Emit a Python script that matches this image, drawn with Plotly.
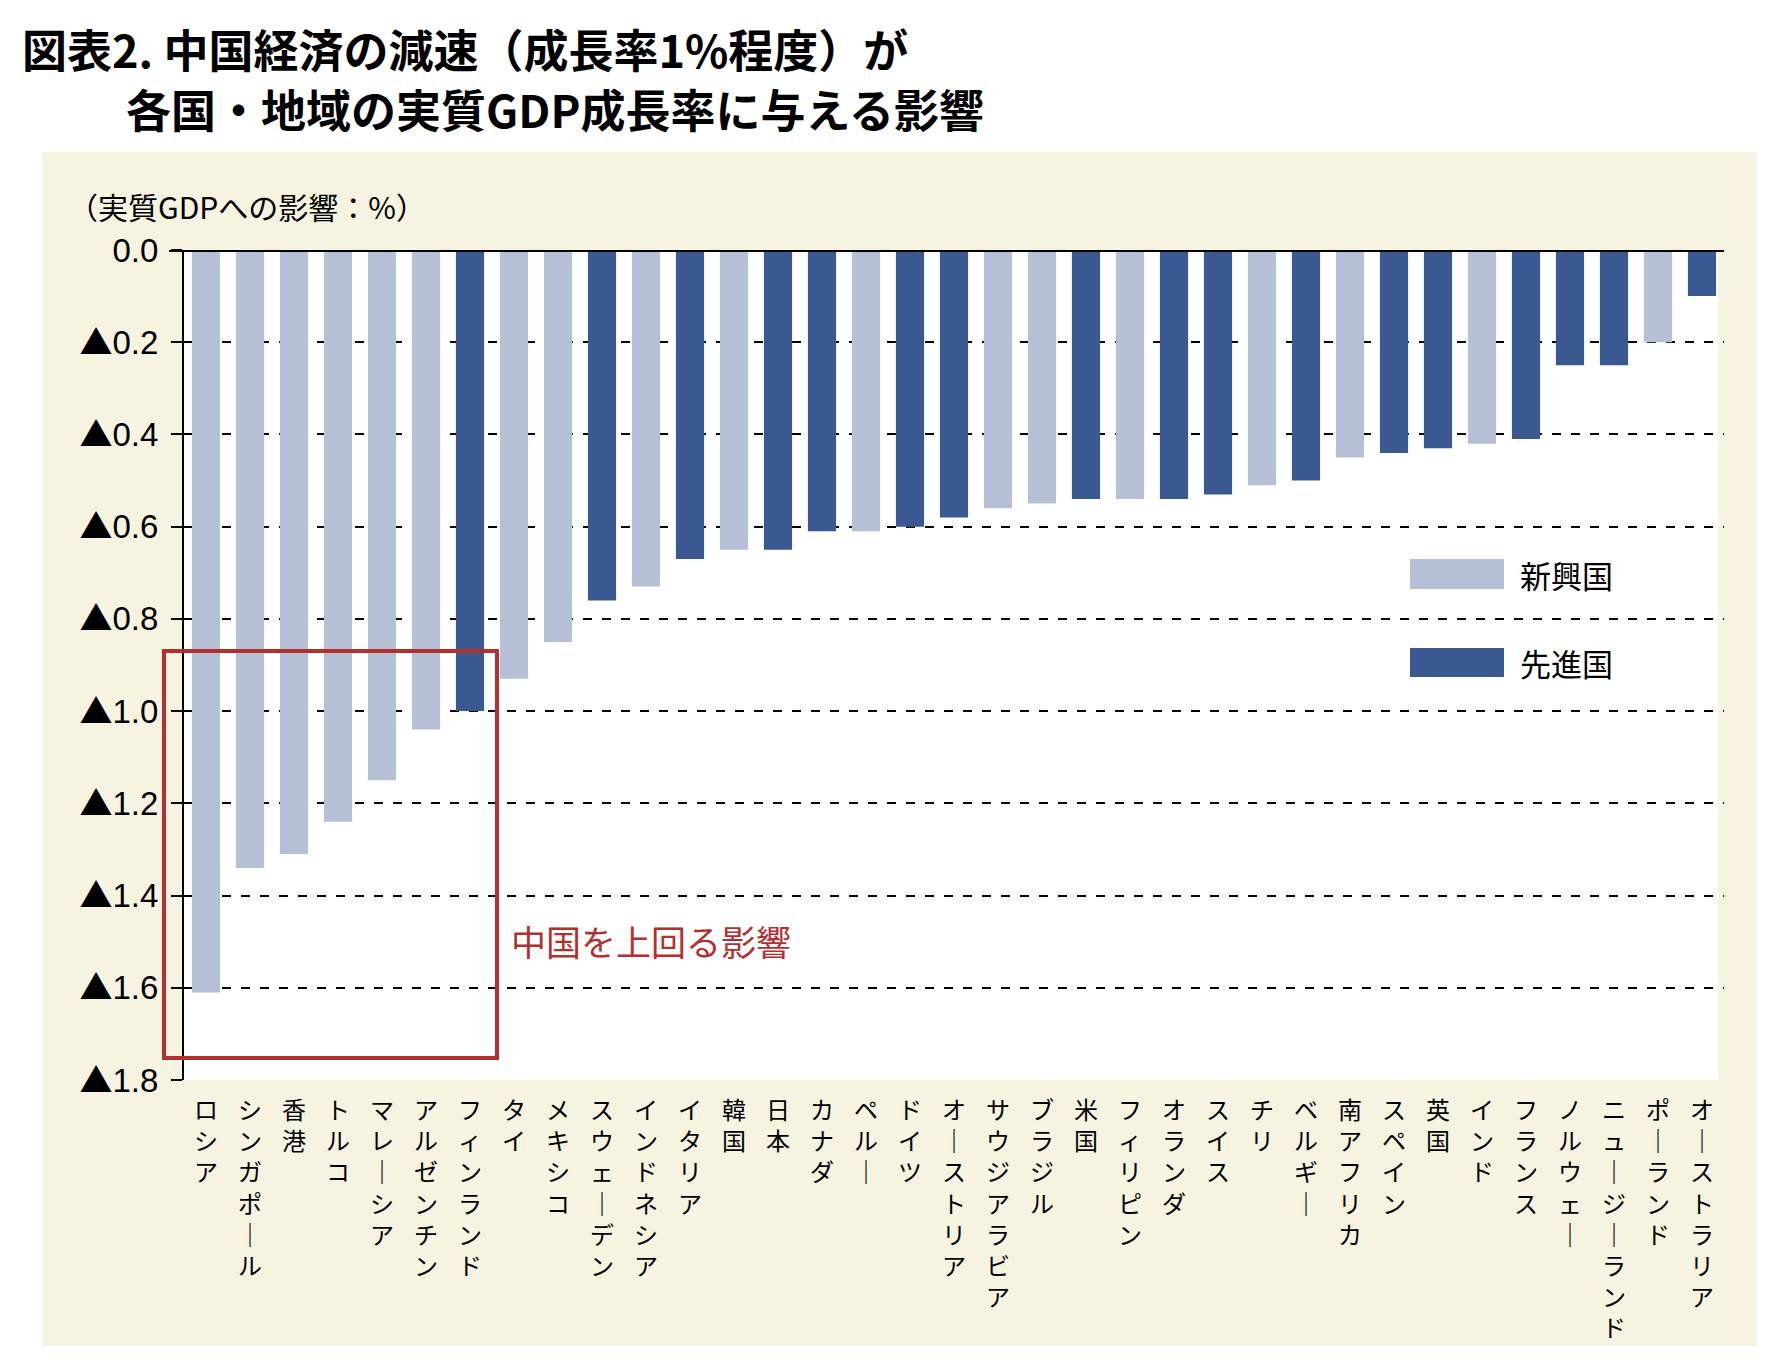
import plotly.graph_objects as go

# ---- data ----
countries = ["ロシア", "シンガポール", "香港", "トルコ", "マレーシア", "アルゼンチン", "フィンランド",
             "タイ", "メキシコ", "スウェーデン", "インドネシア", "イタリア", "韓国", "日本", "カナダ",
             "ペルー", "ドイツ", "オーストリア", "サウジアラビア", "ブラジル", "米国", "フィリピン",
             "オランダ", "スイス", "チリ", "ベルギー", "南アフリカ", "スペイン", "英国", "インド",
             "フランス", "ノルウェー", "ニュージーランド", "ポーランド", "オーストラリア"]
impact = [-1.61, -1.34, -1.31, -1.24, -1.15, -1.04, -1.00,
          -0.93, -0.85, -0.76, -0.73, -0.67, -0.65, -0.65, -0.61,
          -0.61, -0.60, -0.58, -0.56, -0.55, -0.54, -0.54,
          -0.54, -0.53, -0.51, -0.50, -0.45, -0.44, -0.43, -0.42,
          -0.41, -0.25, -0.25, -0.20, -0.10]
group = ["新興国", "新興国", "新興国", "新興国", "新興国", "新興国", "先進国",
         "新興国", "新興国", "先進国", "新興国", "先進国", "新興国", "先進国", "先進国",
         "新興国", "先進国", "先進国", "新興国", "新興国", "先進国", "新興国",
         "先進国", "先進国", "新興国", "先進国", "新興国", "先進国", "先進国", "新興国",
         "先進国", "先進国", "先進国", "新興国", "先進国"]
y_tickvals = [0, -0.2, -0.4, -0.6, -0.8, -1.0, -1.2, -1.4, -1.6, -1.8]
y_ticklabels = ["0.0", "▲0.2", "▲0.4", "▲0.6", "▲0.8", "▲1.0", "▲1.2", "▲1.4", "▲1.6", "▲1.8"]

title_line1 = "図表2. 中国経済の減速（成長率1%程度）が"
title_line2 = "各国・地域の実質GDP成長率に与える影響"
axis_note = "（実質GDPへの影響：%）"
box_note = "中国を上回る影響"

colors = {"新興国": "#b5c0d7", "先進国": "#3a5892"}
RED = "#b3302e"
JP = "Noto Sans CJK JP"


def vertical(s):
    return "<br>".join("｜" if c == "ー" else c for c in s)


def tri(s):
    return s.replace("▲", "<span style='font-family:Noto Sans CJK JP'>▲</span>")


# ---- layout geometry (pixels; page body has an 8px margin) ----
OFF = 8
W, H = 1792 - OFF, 1360 - OFF
L, T = 184 - OFF, 250 - OFF
PW, PH = 1540, 830
R = W - L - PW
B = H - T - PH


def px(x):
    return (x - 184) / PW


def py(y):
    return (1080 - y) / PH


fig = go.Figure()
for g in ["新興国", "先進国"]:
    xs = [c for c, gg in zip(countries, group) if gg == g]
    ys = [v for v, gg in zip(impact, group) if gg == g]
    fig.add_trace(go.Bar(x=xs, y=ys, name=g, marker=dict(color=colors[g], line=dict(width=0)),
                         showlegend=False))

shapes = [
    # beige panel
    dict(type="rect", xref="paper", yref="paper", x0=px(42), x1=px(1757), y0=py(1346), y1=py(152),
         fillcolor="#f6f3e1", line=dict(width=0), layer="below"),
    # white plot area
    dict(type="rect", xref="paper", yref="paper", x0=0, x1=px(1718), y0=0, y1=1,
         fillcolor="white", line=dict(width=0), layer="below"),
    # top zero line
    dict(type="line", xref="paper", yref="y", x0=px(169), x1=1, y0=0, y1=0,
         line=dict(color="black", width=4)),
    # red box
    dict(type="rect", xref="paper", yref="paper", x0=px(164), x1=px(497), y0=py(1058), y1=py(651),
         line=dict(color=RED, width=4), fillcolor="rgba(0,0,0,0)"),
    # legend swatches
    dict(type="rect", xref="paper", yref="paper", x0=px(1410), x1=px(1504), y0=py(589), y1=py(559),
         fillcolor=colors["新興国"], line=dict(width=0)),
    dict(type="rect", xref="paper", yref="paper", x0=px(1410), x1=px(1504), y0=py(677), y1=py(648),
         fillcolor=colors["先進国"], line=dict(width=0)),
]

annotations = [
    dict(text=title_line1, xref="paper", yref="paper", x=px(20), y=py(48), xanchor="left",
         yanchor="middle", showarrow=False, font=dict(size=45, family=JP, color="black", weight="bold")),
    dict(text=title_line2, xref="paper", yref="paper", x=px(124), y=py(108), xanchor="left",
         yanchor="middle", showarrow=False, font=dict(size=45, family=JP, color="black", weight="bold")),
    dict(text=axis_note, xref="paper", yref="paper", x=px(66), y=py(206), xanchor="left",
         yanchor="middle", showarrow=False, font=dict(size=30, family=JP, color="black")),
    dict(text=box_note, xref="paper", yref="paper", x=px(509), y=py(940), xanchor="left",
         yanchor="middle", showarrow=False, font=dict(size=35, family=JP, color=RED)),
    dict(text="新興国", xref="paper", yref="paper", x=px(1518), y=py(574), xanchor="left",
         yanchor="middle", showarrow=False, font=dict(size=31, family=JP, color="black")),
    dict(text="先進国", xref="paper", yref="paper", x=px(1518), y=py(662), xanchor="left",
         yanchor="middle", showarrow=False, font=dict(size=31, family=JP, color="black")),
]

fig.update_layout(
    width=W, height=H,
    margin=dict(l=L, r=R, t=T, b=B),
    paper_bgcolor="white", plot_bgcolor="white",
    barmode="overlay", bargap=0.36,
    font=dict(family=JP, color="black"),
    shapes=shapes, annotations=annotations,
    xaxis=dict(categoryorder="array", categoryarray=countries, range=[-0.5, len(countries) - 0.5],
               tickmode="array", tickvals=countries, ticktext=[vertical(c) for c in countries],
               tickangle=0, showgrid=False, showline=False, ticks="", zeroline=False,
               ticklabelstandoff=14,
               tickfont=dict(size=24, family=JP, color="black")),
    yaxis=dict(range=[-1.8, 0], tickmode="array", tickvals=y_tickvals,
               ticktext=[tri(t) for t in y_ticklabels],
               showgrid=True, gridcolor="black", gridwidth=2, griddash="9px,10px",
               showline=True, linecolor="black", linewidth=2, zeroline=False,
               ticks="outside", ticklen=11, tickwidth=2, tickcolor="black",
               ticklabelstandoff=6,
               tickfont=dict(size=33, family="Liberation Sans, Noto Sans CJK JP", color="black")),
)

fig.write_html("out.html")
